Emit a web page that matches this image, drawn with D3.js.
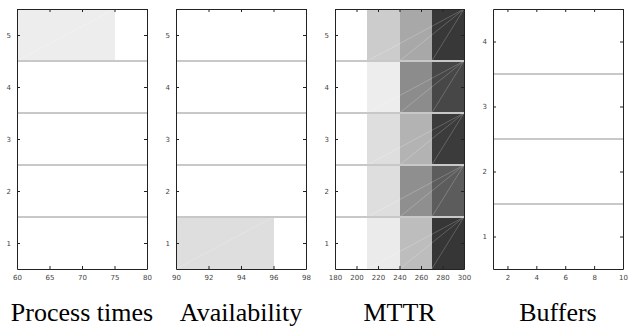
<!DOCTYPE html>
<html><head><meta charset="utf-8">
<script src="https://cdn.jsdelivr.net/npm/d3@7"></script>
<style>html,body{margin:0;padding:0;background:#fff}</style>
</head><body><svg id="c" width="636" height="332"></svg>
<script>
// ---- data ----
const titles = ["Process times", "Availability", "MTTR", "Buffers"];
const xDomains = [[60, 80], [90, 98], [180, 300], [1, 10]];
const xTicks = [[60, 65, 70, 75, 80], [90, 92, 94, 96, 98], [180, 200, 220, 240, 260, 280, 300], [2, 4, 6, 8, 10]];
const rowCounts = [5, 5, 5, 4];
// shaded intervals: [row, from, to, shade(0=white..1=black)]
const processRanges = [[5, 60, 75, 0.07]];
const availRanges = [[1, 90, 96, 0.13]];
// MTTR bands edges and per-row shades (rows 5..1, columns 180-210,210-240,240-270,270-300)
const mttrEdges = [180, 210, 240, 270, 300];
const mttrRows = [5, 4, 3, 2, 1];
const mttrShades = [
  [0, 0.20, 0.34, 0.78],
  [0, 0.07, 0.45, 0.72],
  [0, 0.13, 0.30, 0.77],
  [0, 0.13, 0.44, 0.64],
  [0, 0.08, 0.26, 0.79]
];
const bufferRanges = [];

// ---- layout ----
const svg = d3.select("#c");
const panelX = [[17, 147], [176, 306], [335, 464], [493, 623]];
const plotTop = 9, plotBottom = 269;
const grey = d3.scaleLinear().domain([0, 1]).range(["#ffffff", "#000000"]);

const rangeSets = [processRanges, availRanges, null, bufferRanges];

panelX.forEach((px, i) => {
  const x = d3.scaleLinear().domain(xDomains[i]).range(px);
  const y = d3.scaleLinear().domain([0.5, rowCounts[i] + 0.5]).range([plotBottom, plotTop]);
  const g = svg.append("g");

  // fills
  let rects = [];
  if (rangeSets[i]) {
    rangeSets[i].forEach(r => rects.push({row: r[0], a: r[1], b: r[2], s: r[3]}));
  } else {
    mttrRows.forEach((row, ri) => {
      for (let k = 0; k < mttrEdges.length - 1; k++) {
        rects.push({row: row, a: mttrEdges[k], b: mttrEdges[k + 1], s: mttrShades[ri][k]});
      }
    });
  }
  g.selectAll("rect.f").data(rects).join("rect")
    .attr("x", d => x(d.a)).attr("width", d => x(d.b) - x(d.a))
    .attr("y", d => y(d.row + 0.5)).attr("height", d => y(d.row - 0.5) - y(d.row + 0.5))
    .attr("fill", d => grey(d.s)).attr("shape-rendering", "crispEdges");

  // faint triangulation lines
  let diag = [];
  if (rangeSets[i]) {
    rangeSets[i].forEach(r => diag.push({x1: r[1], y1: r[0] - 0.5, x2: r[2], y2: r[0] + 0.5}));
  } else {
    mttrRows.forEach(row => {
      for (let k = 1; k < mttrEdges.length - 1; k++) {
        diag.push({x1: mttrEdges[k], y1: row - 0.5, x2: mttrEdges[mttrEdges.length - 1], y2: row + 0.5});
      }
    });
  }
  g.selectAll("line.d").data(diag).join("line")
    .attr("x1", d => x(d.x1)).attr("y1", d => y(d.y1))
    .attr("x2", d => x(d.x2)).attr("y2", d => y(d.y2))
    .attr("stroke", "#fff").attr("stroke-opacity", 0.3).attr("stroke-width", 0.7);

  // separators
  const seps = d3.range(1, rowCounts[i]).map(k => k + 0.5);
  g.selectAll("line.s").data(seps).join("line")
    .attr("x1", px[0]).attr("x2", px[1])
    .attr("y1", d => y(d)).attr("y2", d => y(d))
    .attr("stroke", "#c8c8c8").attr("stroke-width", 2);

  // axes (inward ticks, mirrored)
  const yTicks = d3.range(1, rowCounts[i] + 1);
  const fmt = d3.format("d");
  const axB = d3.axisBottom(x).tickValues(xTicks[i]).tickFormat(fmt).tickSizeInner(-3).tickSizeOuter(0).tickPadding(6);
  const axT = d3.axisTop(x).tickValues(xTicks[i]).tickSizeInner(-3).tickSizeOuter(0).tickFormat("");
  const axL = d3.axisLeft(y).tickValues(yTicks).tickFormat(fmt).tickSizeInner(-3).tickSizeOuter(0).tickPadding(6);
  const axR = d3.axisRight(y).tickValues(yTicks).tickSizeInner(-3).tickSizeOuter(0).tickFormat("");
  const style = sel => {
    sel.selectAll("path").attr("stroke", "#222").attr("stroke-width", 1);
    sel.selectAll("line").attr("stroke", "#222");
    sel.selectAll("text").attr("fill", "#444").attr("font-size", 7).attr("font-family", "DejaVu Sans, sans-serif");
  };
  g.append("g").attr("transform", `translate(0,${plotBottom})`).call(axB).call(style);
  g.append("g").attr("transform", `translate(0,${plotTop})`).call(axT).call(style);
  g.append("g").attr("transform", `translate(${px[0]},0)`).call(axL).call(style);
  g.append("g").attr("transform", `translate(${px[1]},0)`).call(axR).call(style);

  // title
  svg.append("text").attr("x", (px[0] + px[1]) / 2).attr("y", 321)
    .attr("text-anchor", "middle").attr("font-family", "Liberation Serif, Times New Roman, serif")
    .attr("font-size", 26).attr("fill", "#000").text(titles[i]);
});
</script></body></html>
